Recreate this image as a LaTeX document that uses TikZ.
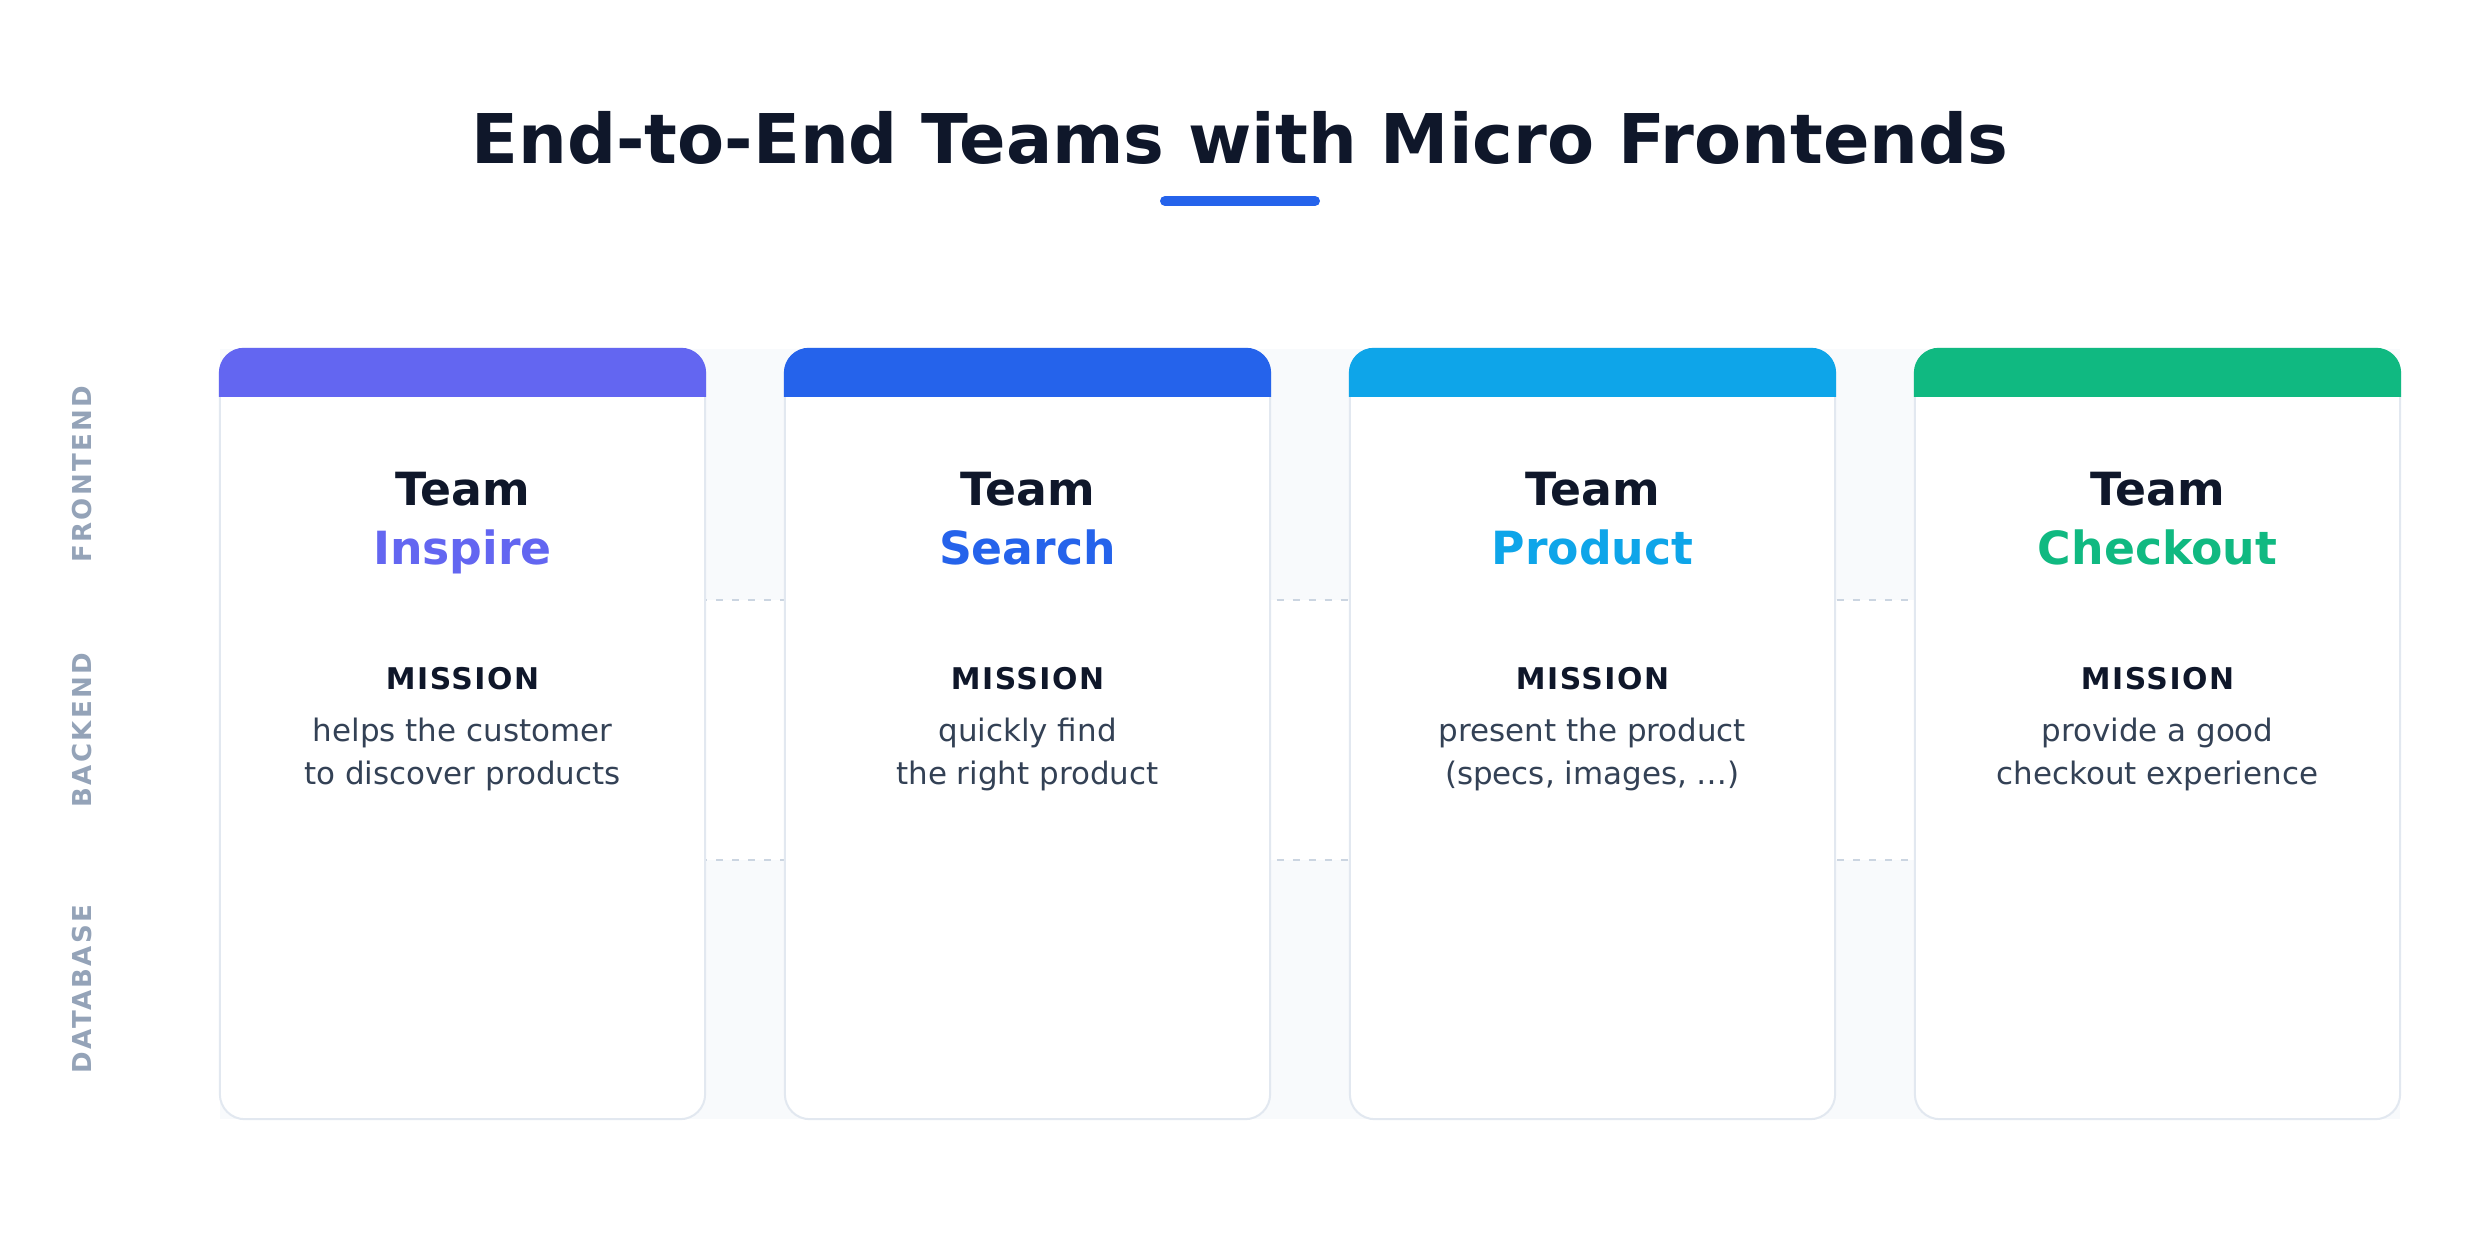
\documentclass[tikz,border=0pt]{standalone}
\usepackage{xcolor}
\usepackage{fontspec}
\setmainfont{DejaVu Sans}
\newfontfamily\misfont[LetterSpace=5]{DejaVu Sans}
\newfontfamily\sidefont[LetterSpace=9]{DejaVu Sans}
\usepackage{tikz}
\usetikzlibrary{positioning,calc}

\definecolor{ink}{HTML}{0F172A}
\definecolor{slate}{HTML}{334155}
\definecolor{muted}{HTML}{94A3B8}
\definecolor{edge}{HTML}{E2E8F0}
\definecolor{band}{HTML}{F8FAFC}
\definecolor{dashln}{HTML}{CBD5E1}
\definecolor{inspire}{HTML}{6366F1}
\definecolor{search}{HTML}{2563EB}
\definecolor{product}{HTML}{0EA5E9}
\definecolor{checkout}{HTML}{10B981}

\begin{document}
\begin{tikzpicture}[
    x=0.01cm, y=0.01cm,
    title/.style={anchor=base, text=ink, font=\fontsize{19.5}{23}\selectfont\bfseries},
    card/.style={rectangle, draw=edge, fill=white, line width=0.02cm, rounded corners=0.25cm,
                 minimum width=4.85cm, minimum height=7.7cm, inner sep=0pt},
    team/.style={anchor=base, font=\fontsize{13}{15}\selectfont\bfseries},
    mis/.style={anchor=base, text=ink, font=\misfont\fontsize{8.5}{10}\selectfont\bfseries},
    desc/.style={anchor=base, text=slate, font=\fontsize{8.8}{11}\selectfont},
    side/.style={rotate=90, text=muted, font=\sidefont\fontsize{7.4}{9}\selectfont\bfseries},
    sep/.style={dashln, line width=0.02cm, dash pattern=on 0.07cm off 0.09cm}
]
\useasboundingbox (0,0) rectangle (2480,-1240);

% Title
\node[title] (title) at (1240,-164) {End-to-End Teams with Micro Frontends};
\coordinate (ulA) at (1165,-201);
\coordinate (ulB) at (1315,-201);
\draw[search, line width=0.1cm, line cap=round] (ulA) -- (ulB);

% Layer bands
\fill[band] (220,-349) rectangle (2400,-600);
\fill[band] (220,-860) rectangle (2400,-1119);
\coordinate (fbL) at (220,-600);
\coordinate (fbR) at (2400,-600);
\coordinate (bdL) at (220,-860);
\coordinate (bdR) at (2400,-860);
\draw[sep] (fbL) -- (fbR);
\draw[sep] (bdL) -- (bdR);

\node[side] (front) at (82,-474) {FRONTEND};
\node[side] (back) at (82,-730) {BACKEND};
\node[side] (db) at (82,-989) {DATABASE};

% 4 teams
\foreach \i/\name/\col/\la/\lb in {
    0/Inspire/inspire/{helps the customer}/{to discover products},
    1/Search/search/{quickly find}/{the right product},
    2/Product/product/{present the product}/{(specs, images, …)},
    3/Checkout/checkout/{provide a good}/{checkout experience}} {
    \node[card] (card\i) at (462.5+565*\i, -734) {};
    \fill[\col] ([yshift=-0.49cm]card\i.north west) [rounded corners=0.25cm]
        -- (card\i.north west) -- (card\i.north east) [sharp corners]
        -- ([yshift=-0.49cm]card\i.north east) -- cycle;
    \node[team, text=ink] (team\i) at (462.5+565*\i, -506) {Team};
    \node[team, text=\col] (name\i) at (462.5+565*\i, -565) {\name};
    \node[mis] (mis\i) at (462.5+565*\i, -690) {MISSION};
    \node[desc] (da\i) at (462.5+565*\i, -742) {\la};
    \node[desc] (db\i) at (462.5+565*\i, -785) {\lb};
}
\end{tikzpicture}
\end{document}
